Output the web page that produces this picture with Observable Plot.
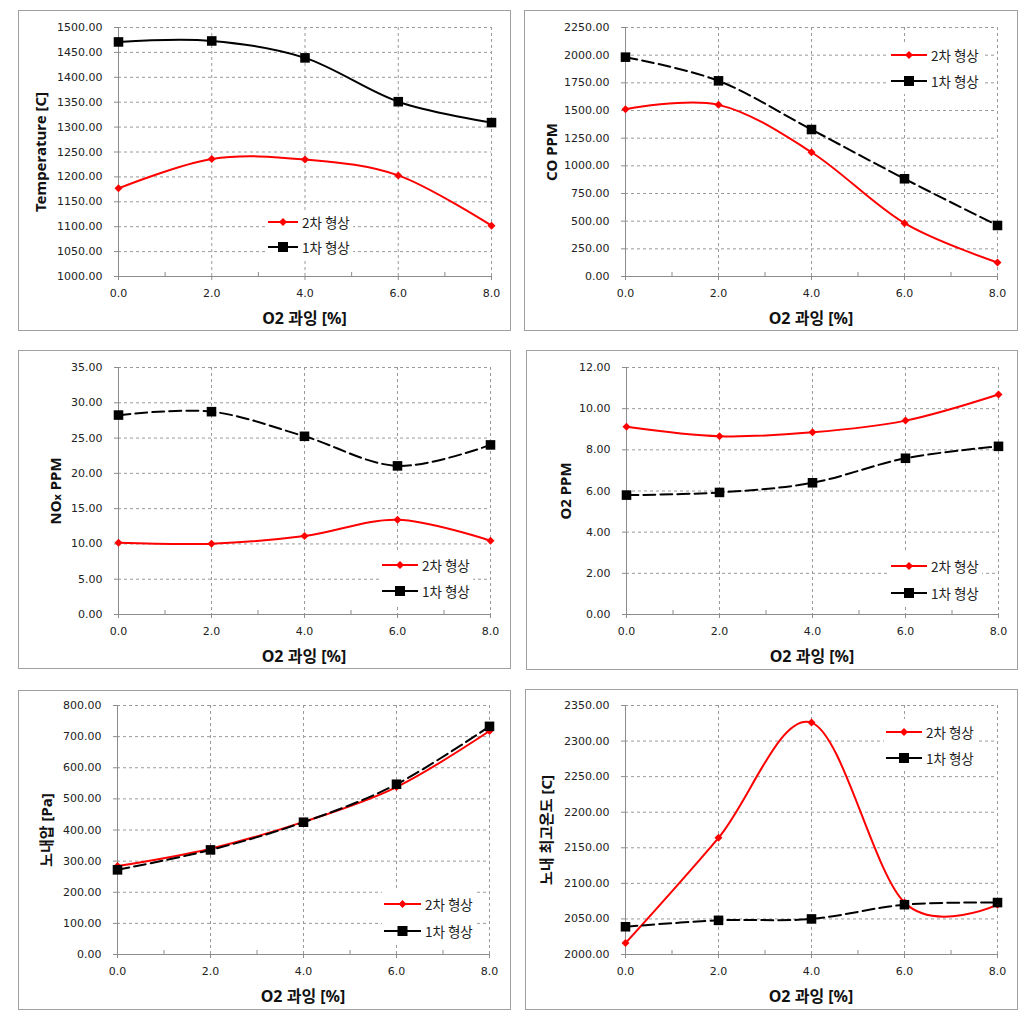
<!DOCTYPE html>
<html>
<head>
<meta charset="utf-8">
<script src="https://cdn.jsdelivr.net/npm/d3@7"></script>
<script src="https://cdn.jsdelivr.net/npm/@observablehq/plot@0.6"></script>
<style>
  body { margin: 0; background: #fff; font-family: "DejaVu Sans", "Noto Sans CJK KR", sans-serif; }
  #root { position: relative; width: 1031px; height: 1019px; overflow: hidden; background: #fff; }
  .panel { position: absolute; }
  .panel > svg { position: absolute; left: 0; top: 0; }
  .panel > svg text { font-family: "DejaVu Sans", sans-serif !important; font-size: 11px !important; }
  .frame { position: absolute; left: 0; top: 0; right: 0; bottom: 0; border: 1px solid #a0a0a0; box-sizing: border-box; pointer-events: none; }
  .ytitle { position: absolute; font-weight: bold; font-size: 15px; white-space: nowrap; color: #111;
            transform: translate(-50%, -50%) rotate(-90deg); font-family: "Noto Sans", "Noto Sans CJK KR", sans-serif; }
  .xtitle { position: absolute; font-weight: bold; font-size: 16px; white-space: nowrap; color: #111;
            transform: translate(-50%, -50%); font-family: "Noto Sans", "Noto Sans CJK KR", sans-serif; }
  .legend { position: absolute; background: #fff; padding: 0 3px 0 2px; }
  .legend .row { display: flex; align-items: center; font-size: 13.5px; color: #222; white-space: nowrap;
                 font-family: "Noto Sans CJK KR", sans-serif; }
  .legend svg { position: static; margin-right: 4px; }
  .sub { font-size: 11px; }
</style>
</head>
<body>
<div id="root"></div>
<script>
// ---------- data ----------
const o2Excess = [0, 2, 4, 6, 8];
const xTicks = [0, 2, 4, 6, 8];
const xMinorTicks = [1, 3, 5, 7];
const seriesNames = ["2차 형상", "1차 형상"];
const xTitle = "O2 과잉 [%]";

const tempSecond = [1177, 1236, 1235, 1203, 1102];
const tempFirst  = [1471, 1473, 1439, 1351, 1309];
const tempTicks  = [1000, 1050, 1100, 1150, 1200, 1250, 1300, 1350, 1400, 1450, 1500];

const coSecond = [1512, 1551, 1123, 482, 127];
const coFirst  = [1982, 1768, 1328, 883, 461];
const coTicks  = [0, 250, 500, 750, 1000, 1250, 1500, 1750, 2000, 2250];

const noxSecond = [10.18, 10.04, 11.12, 13.43, 10.46];
const noxFirst  = [28.26, 28.74, 25.25, 21.06, 24.03];
const noxTicks  = [0, 5, 10, 15, 20, 25, 30, 35];

const o2Second = [9.12, 8.66, 8.85, 9.42, 10.69];
const o2First  = [5.80, 5.93, 6.40, 7.59, 8.17];
const o2Ticks  = [0, 2, 4, 6, 8, 10, 12];

const pressSecond = [284, 340, 426, 538, 718];
const pressFirst  = [272, 336, 425, 547, 733];
const pressTicks  = [0, 100, 200, 300, 400, 500, 600, 700, 800];

const peakSecond = [2016, 2164, 2326, 2073, 2070];
const peakFirst  = [2039, 2048, 2050, 2070, 2073];
const peakTicks  = [2000, 2050, 2100, 2150, 2200, 2250, 2300, 2350];

// ---------- layout (pixel positions, separate from data) ----------
const panels = [
  {title: "Temperature [C]", second: tempSecond, first: tempFirst, ticks: tempTicks, dashed: false,
   box: [18, 10, 493, 321], plot: [118, 491, 27, 276], ytx: 40, leg: [268, 222, 25], legLen: 30},
  {title: "CO PPM", second: coSecond, first: coFirst, ticks: coTicks, dashed: true,
   box: [524, 10, 494, 321], plot: [625, 997, 27, 276], ytx: 551, leg: [891, 55, 26], legLen: 36},
  {title: "NOx PPM", second: noxSecond, first: noxFirst, ticks: noxTicks, dashed: true,
   box: [18, 350, 493, 319], plot: [118, 490, 367, 614], ytx: 55, leg: [382, 565, 26], legLen: 36},
  {title: "O2 PPM", second: o2Second, first: o2First, ticks: o2Ticks, dashed: true,
   box: [526, 350, 492, 320], plot: [626, 998, 367, 614], ytx: 565, leg: [891, 566, 27], legLen: 36},
  {title: "노내압 [Pa]", second: pressSecond, first: pressFirst, ticks: pressTicks, dashed: true,
   box: [18, 690, 493, 320], plot: [117, 489, 705, 954], ytx: 45, leg: [384, 904, 27], legLen: 37},
  {title: "노내 최고온도 [C]", second: peakSecond, first: peakFirst, ticks: peakTicks, dashed: true,
   box: [525, 689, 493, 321], plot: [625, 997, 705, 954], ytx: 545, leg: [886, 732, 26], legLen: 36}
];

const RED = "#ff0000", BLACK = "#000000", GRID = "#9a9a9a", AXIS = "#8c8c8c";
const TICK_FONT = '"DejaVu Sans", sans-serif';
const root = document.getElementById("root");

function swatch(color, symbol, len) {
  const ns = "http://www.w3.org/2000/svg";
  const s = document.createElementNS(ns, "svg");
  s.setAttribute("width", len); s.setAttribute("height", 14);
  const l = document.createElementNS(ns, "line");
  l.setAttribute("x1", 0); l.setAttribute("x2", len); l.setAttribute("y1", 7); l.setAttribute("y2", 7);
  l.setAttribute("stroke", color); l.setAttribute("stroke-width", 2);
  s.appendChild(l);
  const c = len / 2;
  if (symbol === "diamond") {
    const p = document.createElementNS(ns, "path");
    p.setAttribute("d", `M${c},3 L${c + 4},7 L${c},11 L${c - 4},7 Z`);
    p.setAttribute("fill", color);
    s.appendChild(p);
  } else {
    const r = document.createElementNS(ns, "rect");
    r.setAttribute("x", c - 5); r.setAttribute("y", 2); r.setAttribute("width", 10); r.setAttribute("height", 10);
    r.setAttribute("fill", color);
    s.appendChild(r);
  }
  return s;
}

for (const p of panels) {
  const [bx, by, bw, bh] = p.box;
  const [pl, pr, pt, pb] = p.plot;
  const ymin = p.ticks[0], ymax = p.ticks[p.ticks.length - 1];
  const rowsSecond = o2Excess.map((x, i) => ({x, y: p.second[i]}));
  const rowsFirst = o2Excess.map((x, i) => ({x, y: p.first[i]}));
  const innerH = pb - pt;

  const chart = Plot.plot({
    width: bw, height: bh,
    marginLeft: pl - bx, marginRight: bx + bw - pr, marginTop: pt - by, marginBottom: by + bh - pb,
    x: {domain: [0, 8]},
    y: {domain: [ymin, ymax]},
    style: {fontFamily: TICK_FONT, fontSize: "11px", color: "#222", background: "transparent"},
    marks: [
      Plot.gridY(p.ticks.slice(1), {stroke: GRID, strokeOpacity: 1, strokeDasharray: "3,3"}),
      Plot.gridX(xTicks.slice(1), {stroke: GRID, strokeOpacity: 1, strokeDasharray: "3,3"}),
      Plot.ruleX([0], {stroke: AXIS, strokeWidth: 1}),
      Plot.ruleY([ymin], {stroke: AXIS, strokeWidth: 1}),
      Plot.axisY(p.ticks, {anchor: "left", tickSize: 4, tickPadding: 12, tickFormat: d3.format(".2f"), label: null,
        stroke: AXIS, fill: "#222", fontSize: 11, fontFamily: TICK_FONT}),
      Plot.axisX(xTicks, {anchor: "bottom", tickSize: 4, tickPadding: 9, tickFormat: d3.format(".1f"), label: null,
        stroke: AXIS, fill: "#222", fontSize: 11, fontFamily: TICK_FONT}),
      Plot.tickX(xMinorTicks, {x: d => d, stroke: AXIS, insetTop: innerH - 4}),
      Plot.line(rowsSecond, {x: "x", y: "y", curve: "cardinal", stroke: RED, strokeWidth: 2}),
      Plot.line(rowsFirst, {x: "x", y: "y", curve: "cardinal", stroke: BLACK, strokeWidth: 2,
        strokeDasharray: p.dashed ? "12,5" : null}),
      Plot.dot(rowsSecond, {x: "x", y: "y", symbol: "diamond2", r: 3.6, fill: RED, stroke: null}),
      Plot.dot(rowsFirst, {x: "x", y: "y", symbol: "square", r: 5.4, fill: BLACK, stroke: null})
    ]
  });

  const panel = document.createElement("div");
  panel.className = "panel";
  Object.assign(panel.style, {left: bx + "px", top: by + "px", width: bw + "px", height: bh + "px"});
  panel.appendChild(chart);

  const frame = document.createElement("div");
  frame.className = "frame";
  panel.appendChild(frame);

  const yt = document.createElement("div");
  yt.className = "ytitle";
  if (p.title === "NOx PPM") {
    yt.innerHTML = 'NO<span class="sub">x</span> PPM';
  } else {
    yt.textContent = p.title;
  }
  Object.assign(yt.style, {left: (p.ytx - bx) + "px", top: ((pt + pb) / 2 - by) + "px"});
  panel.appendChild(yt);

  const xt = document.createElement("div");
  xt.className = "xtitle";
  xt.textContent = xTitle;
  Object.assign(xt.style, {left: ((pl + pr) / 2 - bx) + "px", top: (pb + 41 - by) + "px"});
  panel.appendChild(xt);

  const [lx, ly, gap] = p.leg;
  const leg = document.createElement("div");
  leg.className = "legend";
  Object.assign(leg.style, {left: (lx - bx - 2) + "px", top: (ly - gap / 2 - by) + "px"});
  [[RED, "diamond"], [BLACK, "square"]].forEach(([color, sym], i) => {
    const row = document.createElement("div");
    row.className = "row";
    row.style.height = gap + "px";
    row.appendChild(swatch(color, sym, p.legLen));
    const t = document.createElement("span");
    t.textContent = seriesNames[i];
    row.appendChild(t);
    leg.appendChild(row);
  });
  panel.appendChild(leg);

  root.appendChild(panel);
}
</script>
</body>
</html>
